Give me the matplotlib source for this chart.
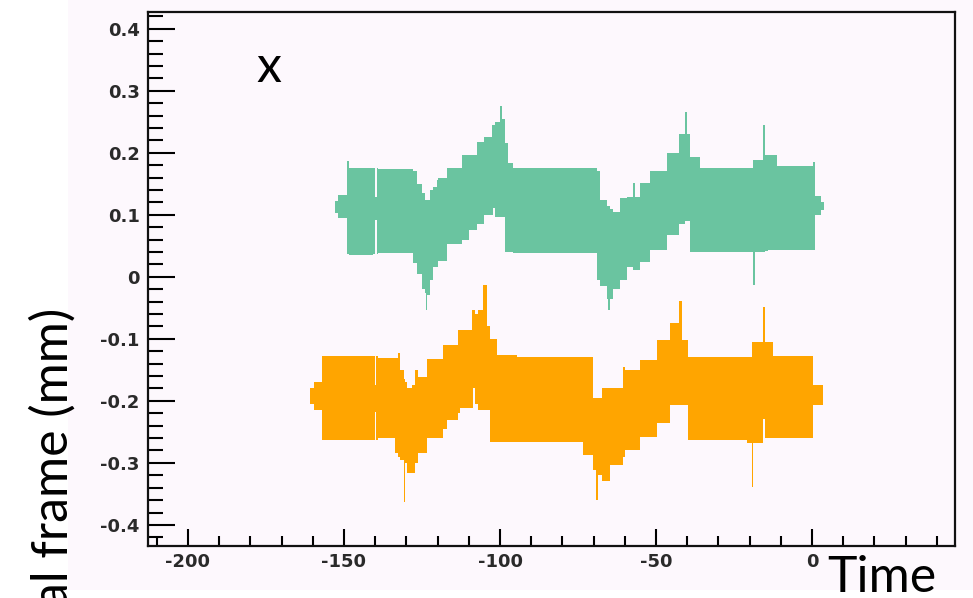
import numpy as np
import matplotlib.pyplot as plt
from matplotlib.patches import Rectangle
from matplotlib.ticker import MultipleLocator, FixedLocator, FixedFormatter

plt.rcParams['axes.unicode_minus'] = False

# residual envelope, upper trace: time, top edge, bottom edge (step edges)
t_green = [-152.9, -151.8, -149.1, -148.3, -140.6, -140.0, -139.5, -139.0, -127.8,
           -126.5, -125.1, -124.0, -123.7, -123.3, -122.5, -121.4, -120.2, -119.8,
           -117.1, -112.3, -110.0, -107.5, -105.0, -102.7, -102.1, -101.5, -100.0,
           -99.3, -98.4, -97.3, -95.7, -69.0, -67.9, -65.8, -65.3, -64.8, -63.7,
           -61.5, -59.4, -57.3, -56.8, -55.1, -51.9, -46.6, -42.8, -40.7, -40.2,
           -39.1, -35.9, -18.8, -18.3, -15.6, -15.0, -14.0, -11.3, 0.4, 1.0, 3.0, 3.8]
hi_green = [0.122, 0.132, 0.186, 0.176, 0.176, 0.129, 0.176, 0.174, 0.170,
            0.150, 0.135, 0.124, 0.124, 0.124, 0.140, 0.145, 0.156, 0.160,
            0.175, 0.197, 0.197, 0.218, 0.225, 0.245, 0.245, 0.250, 0.276,
            0.255, 0.216, 0.184, 0.175, 0.170, 0.124, 0.115, 0.115, 0.110, 0.105,
            0.127, 0.128, 0.152, 0.128, 0.152, 0.170, 0.200, 0.230, 0.266, 0.230,
            0.194, 0.175, 0.189, 0.189, 0.245, 0.197, 0.197, 0.178, 0.185, 0.130, 0.120, 0.120]
lo_green = [0.103, 0.095, 0.037, 0.035, 0.037, 0.092, 0.037, 0.039, 0.023,
            0.005, -0.020, -0.026, -0.053, -0.030, -0.005, 0.016, 0.016, 0.025,
            0.053, 0.060, 0.076, 0.085, 0.100, 0.100, 0.111, 0.097, 0.097,
            0.097, 0.040, 0.040, 0.038, -0.005, -0.015, -0.035, -0.053, -0.035, -0.020,
            -0.005, 0.016, 0.011, 0.011, 0.024, 0.044, 0.068, 0.085, 0.090, 0.090,
            0.040, 0.040, -0.013, 0.040, 0.040, 0.042, 0.044, 0.044, 0.044, 0.100, 0.108, 0.108]

# lower trace
t_orange = [-160.9, -159.5, -157.2, -140.1, -139.6, -139.0, -133.7, -132.6, -132.1,
            -130.9, -130.3, -129.9, -128.3, -127.2, -126.2, -123.5, -118.2, -117.1,
            -113.4, -112.8, -109.1, -108.5, -107.9, -106.9, -105.3, -104.3, -103.2,
            -101.1, -94.7, -73.3, -70.1, -69.2, -68.7, -67.4, -64.7, -60.5, -59.9,
            -55.1, -49.8, -45.5, -42.5, -41.8, -39.6, -20.9, -19.3, -18.8, -15.6,
            -15.0, -12.4, 0.4, 3.6]
hi_orange = [-0.180, -0.170, -0.127, -0.174, -0.128, -0.131, -0.131, -0.123, -0.150,
             -0.165, -0.170, -0.179, -0.175, -0.150, -0.161, -0.132, -0.110, -0.110,
             -0.085, -0.085, -0.053, -0.053, -0.060, -0.053, -0.013, -0.080, -0.100,
             -0.126, -0.130, -0.130, -0.195, -0.195, -0.195, -0.179, -0.179, -0.145, -0.150,
             -0.134, -0.102, -0.074, -0.039, -0.102, -0.129, -0.129, -0.105, -0.105, -0.048,
             -0.105, -0.127, -0.174, -0.174]
lo_orange = [-0.205, -0.215, -0.263, -0.218, -0.263, -0.260, -0.284, -0.290, -0.295,
             -0.363, -0.300, -0.316, -0.316, -0.300, -0.284, -0.260, -0.245, -0.231,
             -0.220, -0.211, -0.211, -0.179, -0.205, -0.215, -0.215, -0.215, -0.266,
             -0.266, -0.266, -0.287, -0.311, -0.360, -0.320, -0.330, -0.303, -0.290, -0.279,
             -0.258, -0.235, -0.206, -0.206, -0.206, -0.263, -0.268, -0.339, -0.268, -0.230,
             -0.260, -0.260, -0.207, -0.207]

x_major = [-200, -150, -100, -50, 0]
x_labels = ['-200', '-150', '-100', '-50', '0']
y_major = [0.4, 0.3, 0.2, 0.1, 0.0, -0.1, -0.2, -0.3, -0.4]
y_labels = ['0.4', '0.3', '0.2', '0.1', '0', '-0.1', '-0.2', '-0.3', '-0.4']

pink = '#fdf8fd'
W, H = 973, 598

fig = plt.figure(figsize=(W / 100, H / 100), dpi=100, facecolor='white')
fig.patches.append(Rectangle((68 / W, 8 / H), 1 - 68 / W, 1 - 8 / H,
                             transform=fig.transFigure, facecolor=pink,
                             edgecolor='none', zorder=-5))

ax = fig.add_axes([148 / W, 1 - 546 / H, (955 - 148) / W, (546 - 12) / H])
ax.set_facecolor(pink)

ax.fill_between(t_green, lo_green, hi_green, step='post', color='#6ac4a0', lw=0)
ax.fill_between(t_orange, lo_orange, hi_orange, step='post', color='#ffa500', lw=0)

ax.set_xlim(-212.8, 45.8)
ax.set_ylim(-0.434, 0.427)

ax.xaxis.set_major_locator(FixedLocator(x_major))
ax.xaxis.set_major_formatter(FixedFormatter(x_labels))
ax.xaxis.set_minor_locator(MultipleLocator(10))
ax.yaxis.set_major_locator(FixedLocator(y_major))
ax.yaxis.set_major_formatter(FixedFormatter(y_labels))
ax.yaxis.set_minor_locator(MultipleLocator(0.02))

for s in ax.spines.values():
    s.set_linewidth(1.6)
    s.set_color('#111111')

ax.tick_params(axis='y', which='major', direction='in', length=19.5, width=1.5, pad=6)
ax.tick_params(axis='y', which='minor', direction='in', length=11, width=1.5)
ax.tick_params(axis='x', which='major', direction='in', length=12, width=1.5, pad=5)
ax.tick_params(axis='x', which='minor', direction='in', length=7, width=1.5)
for lab in ax.get_xticklabels() + ax.get_yticklabels():
    lab.set_fontfamily('DejaVu Sans')
    lab.set_fontweight('bold')
    lab.set_fontsize(13)
    lab.set_color('#2a2a2a')

big = dict(family=['Lato', 'DejaVu Sans'], fontsize=36, color='black')
fig.text(269 / W, 1 - 82 / H, 'x', ha='center', va='baseline', **big)
fig.text(827 / W, 1 - 592 / H, 'Time', ha='left', va='baseline', **big)
fig.text(53 / W, 1 - 308 / H, 'al frame (mm)', rotation=90, ha='center', va='top', **big)

fig.savefig('out.png', dpi=100, facecolor='white')
